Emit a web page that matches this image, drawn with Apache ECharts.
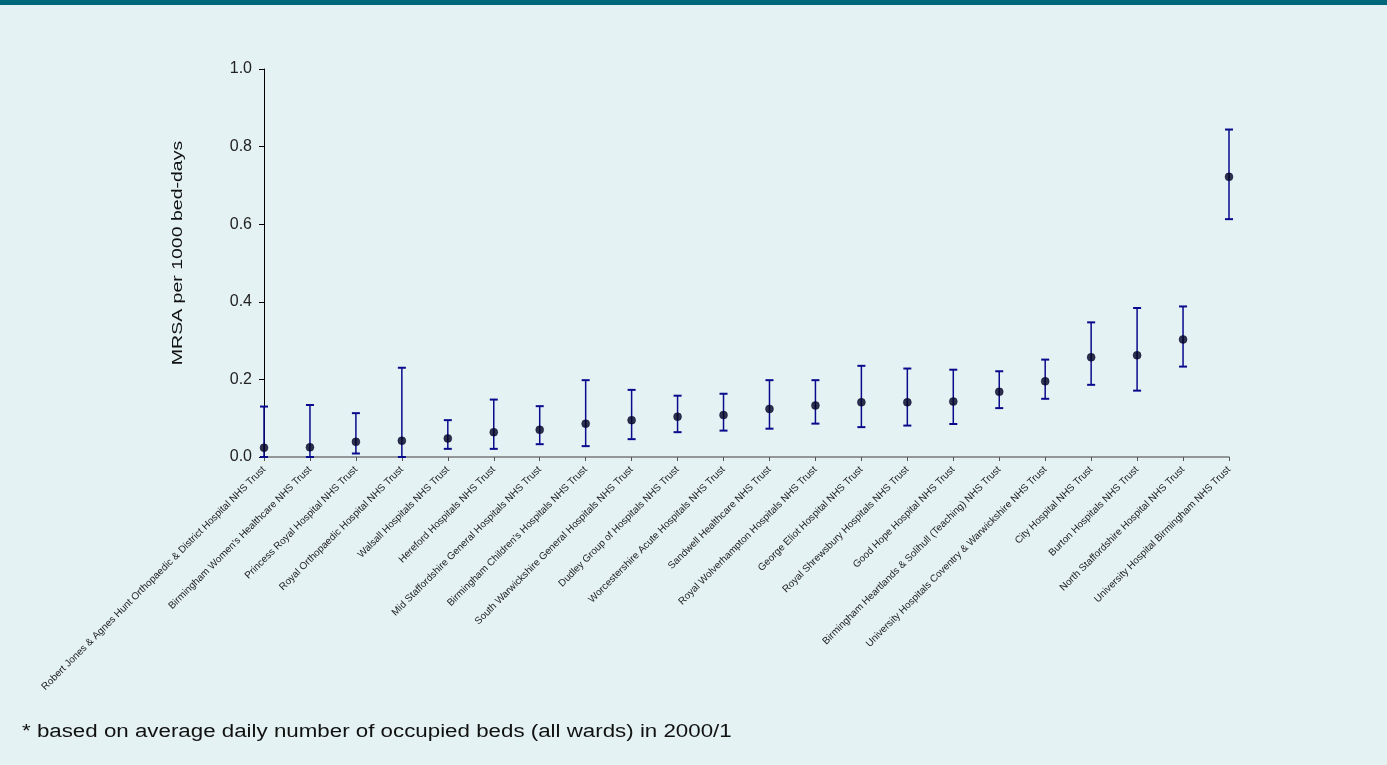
<!DOCTYPE html>
<html>
<head>
<meta charset="utf-8">
<script src="https://cdn.jsdelivr.net/npm/echarts@6/dist/echarts.min.js"></script>
<style>
html,body{margin:0;padding:0;background:#e4f2f3;}
#chart{width:1387px;height:765px;}
</style>
</head>
<body>
<div id="chart"></div>
<script>
const categories = [
  "Robert Jones & Agnes Hunt Orthopaedic & District Hospital NHS Trust",
  "Birmingham Women's Healthcare NHS Trust",
  "Princess Royal Hospital NHS Trust",
  "Royal Orthopaedic Hospital NHS Trust",
  "Walsall Hospitals NHS Trust",
  "Hereford Hospitals NHS Trust",
  "Mid Staffordshire General Hospitals NHS Trust",
  "Birmingham Children's Hospitals NHS Trust",
  "South Warwickshire General Hospitals NHS Trust",
  "Dudley Group of Hospitals NHS Trust",
  "Worcestershire Acute Hospitals NHS Trust",
  "Sandwell Healthcare NHS Trust",
  "Royal Wolverhampton Hospitals NHS Trust",
  "George Eliot Hospital NHS Trust",
  "Royal Shrewsbury Hospitals NHS Trust",
  "Good Hope Hospital NHS Trust",
  "Birmingham Heartlands & Solihull (Teaching) NHS Trust",
  "University Hospitals Coventry & Warwickshire NHS Trust",
  "City Hospital NHS Trust",
  "Burton Hospitals NHS Trust",
  "North Staffordshire Hospital NHS Trust",
  "University Hospital Birmingham NHS Trust"
];
const rate  = [0.024,0.025,0.039,0.042,0.048,0.064,0.070,0.086,0.095,0.104,0.108,0.124,0.133,0.141,0.141,0.143,0.168,0.195,0.257,0.262,0.303,0.722];
const lower = [0.000,0.000,0.009,0.000,0.021,0.021,0.033,0.028,0.046,0.064,0.068,0.073,0.086,0.077,0.081,0.085,0.126,0.150,0.186,0.171,0.233,0.613];
const upper = [0.130,0.134,0.113,0.230,0.095,0.148,0.131,0.198,0.173,0.158,0.163,0.198,0.198,0.235,0.228,0.225,0.221,0.251,0.347,0.384,0.388,0.844];
const yTicks = [0, 0.2, 0.4, 0.6, 0.8, 1.0];
const yTitle = 'MRSA per 1000 bed-days';
const footnote = '* based on average daily number of occupied beds (all wards) in 2000/1';

const errData = categories.map((c, i) => [i, lower[i], upper[i]]);
const dotData = categories.map((c, i) => [i, rate[i]]);
const FONT = 'Liberation Sans, Arial, sans-serif';

const chart = echarts.init(document.getElementById('chart'), null, {renderer: 'canvas'});
chart.setOption({
  backgroundColor: '#e4f2f3',
  animation: false,
  textStyle: {fontFamily: FONT},
  graphic: [
    {type: 'rect', left: 0, top: 0, shape: {width: 1387, height: 5}, style: {fill: '#00687a'}},
    {type: 'text', x: 22, y: 732, scaleX: 1.24,
     style: {text: footnote, x: 0, y: 0, align: 'left', verticalAlign: 'middle', fontSize: 18, fill: '#111', fontFamily: FONT}},
    {type: 'text', x: 178, y: 253, rotation: Math.PI / 2, scaleX: 1.3,
     style: {text: yTitle, x: 0, y: 0, align: 'center', verticalAlign: 'middle', fontSize: 15, fill: '#111', fontFamily: FONT}}
  ],
  grid: {left: 264, right: 158, top: 69, bottom: 308, containLabel: false},
  xAxis: {
    type: 'category',
    data: categories,
    boundaryGap: false,
    axisLine: {show: true, lineStyle: {color: '#7a7a7a', width: 1.5}},
    axisTick: {show: true, alignWithLabel: true, length: 4, lineStyle: {color: '#555'}},
    axisLabel: {rotate: 45, fontSize: 10, color: '#222', interval: 0, margin: 11},
    splitLine: {show: false}
  },
  yAxis: {
    type: 'value',
    min: 0, max: 1, interval: 0.2,
    axisLine: {show: true, lineStyle: {color: '#000', width: 1}},
    axisTick: {show: true, inside: false, length: 5, lineStyle: {color: '#000'}},
    axisLabel: {fontSize: 16, color: '#222', margin: 12, formatter: v => yTicks.includes(Math.round(v*10)/10) ? v.toFixed(1) : ''},
    splitLine: {show: false}
  },
  series: [
    {
      type: 'custom',
      data: errData,
      renderItem: function (params, api) {
        const x = api.value(0);
        const lo = api.coord([x, api.value(1)]);
        const hi = api.coord([x, api.value(2)]);
        const cw = 4;
        return {
          type: 'group',
          children: [
            {type: 'line', shape: {x1: hi[0], y1: hi[1], x2: lo[0], y2: lo[1]}, style: {stroke: '#0a0a8c', lineWidth: 1.5}},
            {type: 'line', shape: {x1: hi[0]-cw, y1: hi[1], x2: hi[0]+cw, y2: hi[1]}, style: {stroke: '#0a0a8c', lineWidth: 2}},
            {type: 'line', shape: {x1: lo[0]-cw, y1: lo[1], x2: lo[0]+cw, y2: lo[1]}, style: {stroke: '#0a0a8c', lineWidth: 2}}
          ]
        };
      },
      z: 2
    },
    {
      type: 'scatter',
      data: dotData,
      symbol: 'circle',
      symbolSize: 8,
      itemStyle: {color: '#000022', borderColor: '#000033', borderWidth: 0.5},
      z: 3
    }
  ]
});
</script>
</body>
</html>
